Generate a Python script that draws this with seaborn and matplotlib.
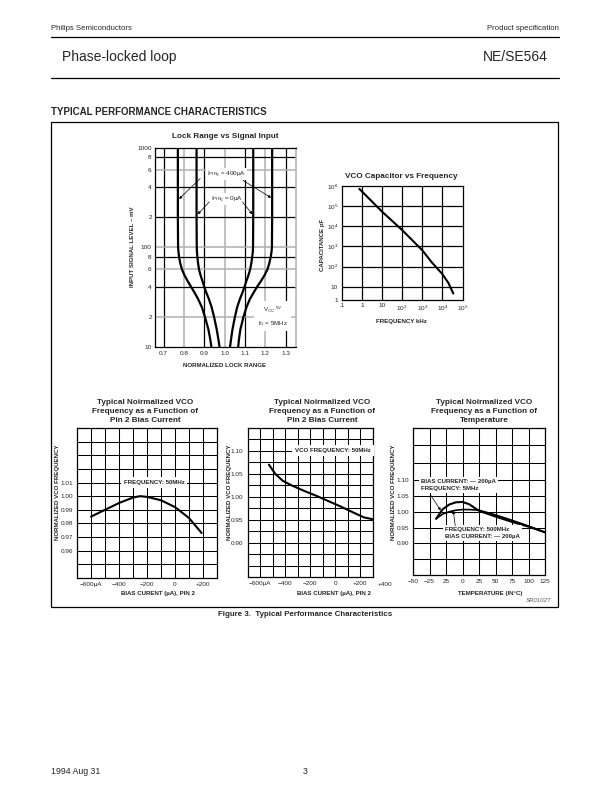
import numpy as np
import pandas as pd
import matplotlib
matplotlib.use("Agg")
import matplotlib.pyplot as plt
import seaborn as sns
from matplotlib import font_manager
from matplotlib.patches import Rectangle
from matplotlib.lines import Line2D

# ---------------- data ----------------
lock_mv = [1000, 500, 200, 100, 90, 80, 70, 60, 52, 45, 40, 35, 30, 25, 20, 15, 12, 10]
lock_400_left = [0.770, 0.770, 0.770, 0.771, 0.773, 0.776, 0.781, 0.790, 0.803, 0.820, 0.835, 0.852, 0.870, 0.888, 0.903, 0.920, 0.929, 0.935]
lock_0_left = [0.862, 0.862, 0.862, 0.863, 0.864, 0.866, 0.869, 0.874, 0.882, 0.892, 0.900, 0.910, 0.923, 0.936, 0.948, 0.961, 0.969, 0.975]
lock_0_right = [1.141, 1.141, 1.141, 1.140, 1.139, 1.136, 1.132, 1.126, 1.117, 1.106, 1.098, 1.088, 1.075, 1.062, 1.051, 1.039, 1.032, 1.027]
lock_400_right = [1.234, 1.234, 1.234, 1.233, 1.231, 1.227, 1.221, 1.211, 1.196, 1.177, 1.160, 1.143, 1.124, 1.108, 1.093, 1.078, 1.071, 1.067]
lock_xticks = [0.7, 0.8, 0.9, 1.0, 1.1, 1.2, 1.3]
lock_yticks = [10, 20, 40, 60, 80, 100, 200, 400, 600, 800, 1000]
lock_ylabels = ["10", "2", "4", "6", "8", "100", "2", "4", "6", "8", "1000"]

cap_freq_khz = [0.75, 1, 10, 100, 1000, 3000, 10000, 20000, 35000]
cap_pf = [7.4e5, 5.6e5, 5.5e4, 6.6e3, 6.5e2, 1.6e2, 4.2e1, 1.5e1, 4.5]
cap_xticks = [0.1, 1, 10, 100, 1e3, 1e4, 1e5]
cap_xlabels = [".1", "1", "10", r"$\mathregular{10^2}$", r"$\mathregular{10^3}$",
               r"$\mathregular{10^4}$", r"$\mathregular{10^5}$"]
cap_yticks = [10, 100, 1e3, 1e4, 1e5, 1e6]
cap_ylabels = ["10", r"$\mathregular{10^2}$", r"$\mathregular{10^3}$", r"$\mathregular{10^4}$",
               r"$\mathregular{10^5}$", r"$\mathregular{10^6}$"]

bias_ua = [-600, -500, -400, -300, -250, -200, -100, 0, 100, 190]
bias_freq = [0.985, 0.990, 0.995, 0.999, 1.000, 0.9995, 0.997, 0.992, 0.984, 0.973]
bias_xticks = [-600, -500, -400, -300, -200, -100, 0, 100, 200]
bias_xlabels = ["\u2212600\u00b5A", "", "\u2212400", "", "\u2212200", "", "0", "", "+200"]
bias_yticks = [0.95, 0.96, 0.97, 0.98, 0.99, 1.00, 1.01, 1.02, 1.03, 1.04]
bias_ylabels = ["", "0.96", "0.97", "0.98", "0.99", "1.00", "1.01", "", "", ""]

mid_ua = [-530, -480, -420, -350, -250, -150, -50, 50, 150, 230, 300]
mid_freq = [1.070, 1.050, 1.035, 1.025, 1.013, 1.002, 0.990, 0.978, 0.965, 0.955, 0.951]
mid_xticks = [-600, -500, -400, -300, -200, -100, 0, 100, 200]
mid_xlabels = ["\u2212600\u00b5A", "", "\u2212400", "", "\u2212200", "", "0", "", "+200"]
mid_yticks = [0.85, 0.875, 0.90, 0.925, 0.95, 0.975, 1.00, 1.025, 1.05, 1.075, 1.10, 1.125]
mid_ylabels = ["", "", "0.90", "", "0.95", "", "1.00", "", "1.05", "", "1.10", ""]

temp_c = [-40, -30, -20, -10, 0, 10, 25, 50, 75, 100, 125]
temp_5mhz = [0.978, 1.008, 1.023, 1.030, 1.031, 1.024, 1.003, 0.985, 0.968, 0.953, 0.935]
temp_500mhz = [0.978, 0.993, 1.000, 1.005, 1.007, 1.007, 1.005, 0.990, 0.973, 0.955, 0.935]
temp_xticks = [-75, -50, -25, 0, 25, 50, 75, 100, 125]
temp_xlabels = ["\u221250", "\u221225", "25", "0", "25", "50", "75", "100", "125"]
temp_yticks = [0.85, 0.90, 0.95, 1.00, 1.05, 1.10, 1.155, 1.21]
temp_ylabels = ["", "0.90", "0.95", "1.00", "1.05", "1.10", "", ""]

# ---------------- style ----------------
sns.set_style("white")
names = {f.name for f in font_manager.fontManager.ttflist}
NARROW = "Liberation Sans Narrow" in names
NF = "Liberation Sans Narrow" if NARROW else "Liberation Sans"
NS = 1.0 if NARROW else 0.84
plt.rcParams["font.family"] = ["Liberation Sans", "DejaVu Sans"]
plt.rcParams["mathtext.fontset"] = "custom"
plt.rcParams["mathtext.rm"] = "Liberation Sans"
plt.rcParams["mathtext.it"] = "Liberation Sans:italic"
plt.rcParams["mathtext.bf"] = "Liberation Sans:bold"

W, H = 612, 792
fig = plt.figure(figsize=(W / 100, H / 100), dpi=100)


def ax_at(x0, y0, x1, y1):
    return fig.add_axes([x0 / W, 1 - y1 / H, (x1 - x0) / W, (y1 - y0) / H])


def ftext(x, y, s, **kw):
    kw.setdefault("va", "center")
    fig.text(x / W, 1 - y / H, s, **kw)


def hline(x0, x1, y, lw=1.0):
    fig.add_artist(Line2D([x0 / W, x1 / W], [1 - y / H, 1 - y / H], color="black", lw=lw))


TICK = 4.6
LBL = 4.4
WHITE = dict(facecolor="white", edgecolor="none", pad=0.8)

# ---------------- page header / footer ----------------
ftext(51, 28.5, "Philips Semiconductors", fontsize=5.6, ha="left")
ftext(559, 28.5, "Product specification", fontsize=5.6, ha="right")
hline(51, 559, 36.5, lw=0.9)
ftext(61.5, 57, "Phase-locked loop", fontsize=10, ha="left")
ftext(548, 57, "NE/SE564", fontsize=10, ha="right")
hline(51, 559, 78, lw=0.9)
ftext(51, 112, "TYPICAL PERFORMANCE CHARACTERISTICS", fontsize=7.0, fontweight="bold", ha="left",
      family=NF if NARROW else "Liberation Sans")
fig.add_artist(Rectangle((51 / W, 1 - 607 / H), (558 - 51) / W, (607 - 121.5) / H,
                         fill=False, edgecolor="black", lw=0.9))
ftext(551, 600, "SR01027", fontsize=4.3, ha="right", style="italic", color="#555555")
ftext(305, 614, "Figure 3.  Typical Performance Characteristics", fontsize=6.8 * NS,
      fontweight="bold", ha="center", family=NF)
ftext(51, 771, "1994 Aug 31", fontsize=6.3, ha="left")
ftext(305, 771, "3", fontsize=6.3, ha="center")

# ---------------- Lock range chart ----------------
ax = ax_at(154.5, 147.7, 295.7, 346.7)
ax.set_yscale("log")
ax.set_xlim(0.655, 1.35)
ax.set_ylim(10, 1000)
grid_x_dark = [True, False, True, False, True, False, True]
for xv, dark in zip(lock_xticks, grid_x_dark):
    ax.axvline(xv, color="black" if dark else "#b0b0b0", lw=0.9 if dark else 1.1, zorder=1)
grid_y = [20, 40, 60, 80, 100, 200, 400, 600, 800]
grid_y_dark = [False, True, False, True, False, True, True, False, True]
for yv, dark in zip(grid_y, grid_y_dark):
    ax.axhline(yv, color="black" if dark else "#b0b0b0", lw=0.9 if dark else 1.1, zorder=1)
for xs in (lock_400_left, lock_0_left, lock_0_right, lock_400_right):
    sns.lineplot(x=xs, y=lock_mv, sort=False, estimator=None, color="black", lw=1.6, ax=ax, zorder=3)
ax.set_xticks(lock_xticks)
ax.set_xticklabels([f"{v:.1f}" for v in lock_xticks], fontsize=TICK)
ax.set_yticks(lock_yticks)
ax.set_yticklabels(lock_ylabels, fontsize=TICK)
ax.yaxis.set_minor_locator(matplotlib.ticker.FixedLocator([30, 50, 70, 90, 300, 500, 700, 900]))
ax.yaxis.set_minor_formatter(matplotlib.ticker.NullFormatter())
ax.tick_params(axis="y", which="both", direction="in", length=2.5, width=0.7, pad=2)
ax.tick_params(axis="x", length=0, pad=3)
for s in ax.spines.values():
    s.set_linewidth(0.9)
    s.set_color("black")
ax.spines["right"].set_color("#b0b0b0")
ax.spines["right"].set_linewidth(1.1)
ax.set_xlabel("")
ax.set_ylabel("")
ax.text(1.008, 545, r"$\mathregular{I_{PIN_2}}$ = 400$\mathregular{\mu}$A", fontsize=4.6, ha="center",
        va="center", bbox=WHITE, zorder=5)
ax.text(1.012, 305, r"$\mathregular{I_{PIN_2}}$ = 0$\mathregular{\mu}$A", fontsize=4.6, ha="center",
        va="center", bbox=WHITE, zorder=5)
arrow = dict(arrowstyle="-|>", color="black", lw=0.5, mutation_scale=4, shrinkA=0, shrinkB=0)
ax.annotate("", xy=(0.776, 305), xytext=(0.88, 490), arrowprops=arrow, zorder=6)
ax.annotate("", xy=(1.229, 314), xytext=(1.09, 470), arrowprops=arrow, zorder=6)
ax.annotate("", xy=(0.867, 214), xytext=(0.925, 285), arrowprops=arrow, zorder=6)
ax.annotate("", xy=(1.137, 214), xytext=(1.088, 285), arrowprops=arrow, zorder=6)
ax.text(1.236, 20.3, "V$\\mathregular{_{CC}}$ $\\mathregular{^{5V}}$\n\nf$\\mathregular{_O}$ = 5MHz",
        fontsize=4.4, ha="center", va="center", linespacing=0.9,
        bbox=dict(facecolor="white", edgecolor="none", pad=2.5), zorder=5)
ftext(225, 137, "Lock Range vs Signal Input", fontsize=7.0 * NS, fontweight="bold", ha="center", family=NF)
ftext(225, 365.5, "NORMALIZED LOCK RANGE", fontsize=LBL, fontweight="bold", ha="center")
ftext(133, 247, "INPUT SIGNAL LEVEL \u2013 mV", fontsize=LBL, fontweight="bold", ha="center", rotation=90)

# ---------------- VCO capacitor chart ----------------
ax = ax_at(341.7, 186.3, 462.5, 300)
ax.set_xscale("log")
ax.set_yscale("log")
ax.set_xlim(0.1, 1e5)
ax.set_ylim(10 ** 0.33, 1e6)
for xv in cap_xticks[1:-1]:
    ax.axvline(xv, color="black", lw=0.9, zorder=1)
for yv in cap_yticks[:-1]:
    ax.axhline(yv, color="black", lw=0.9, zorder=1)
sns.lineplot(x=cap_freq_khz, y=cap_pf, sort=False, estimator=None, color="black", lw=1.5, ax=ax, zorder=3)
ax.set_xticks(cap_xticks)
ax.set_xticklabels(cap_xlabels, fontsize=TICK)
ax.set_yticks([10 ** 0.33] + cap_yticks)
ax.set_yticklabels(["1"] + cap_ylabels, fontsize=TICK)
ax.minorticks_off()
ax.tick_params(length=0, pad=2.5)
for s in ax.spines.values():
    s.set_linewidth(0.9)
    s.set_color("black")
ax.set_xlabel("")
ax.set_ylabel("")
ftext(401.5, 177, "VCO Capacitor vs Frequency", fontsize=7.0 * NS, fontweight="bold", ha="center", family=NF)
ftext(401.5, 321, "FREQUENCY kHz", fontsize=LBL, fontweight="bold", ha="center")
ftext(322.5, 245, "CAPACITANCE pF", fontsize=LBL, fontweight="bold", ha="center", rotation=90)


def bottom_axes(x0, y0, x1, y1, xlim, ylim, xt, xl, yt, yl):
    a = ax_at(x0, y0, x1, y1)
    a.set_xlim(*xlim)
    a.set_ylim(*ylim)
    a.set_xticks(xt)
    a.set_xticklabels(xl, fontsize=TICK)
    a.set_yticks(yt)
    a.set_yticklabels(yl, fontsize=TICK)
    a.grid(True, color="black", lw=0.75)
    a.set_axisbelow(True)
    a.tick_params(length=0, pad=3)
    for s in a.spines.values():
        s.set_linewidth(0.9)
        s.set_color("black")
    return a


# ---------------- bias current chart (left) ----------------
ax = bottom_axes(77, 428, 217, 578, (-700, 300), (0.94, 1.05), bias_xticks, bias_xlabels,
                 bias_yticks, bias_ylabels)
sns.lineplot(x=bias_ua, y=bias_freq, sort=False, estimator=None, color="black", lw=1.5, ax=ax, zorder=3)
ax.set_xlabel("")
ax.set_ylabel("")
ax.text(-150, 1.010, "FREQUENCY: 50MHz", fontsize=4.4, fontweight="bold", ha="center", va="center",
        bbox=dict(facecolor="white", edgecolor="none", pad=2.2), zorder=4)
for i, line in enumerate(["Typical Noirmalized VCO", "Frequency as a Function of", "Pin 2 Bias Current"]):
    ftext(145, 402 + 9.3 * i, line, fontsize=7.0 * NS, fontweight="bold", ha="center", family=NF)
ftext(158, 593, "BIAS CURENT (\u00b5A), PIN 2", fontsize=LBL, fontweight="bold", ha="center")
ftext(57, 492, "NORMALIZED VCO FREQUENCY", fontsize=LBL, fontweight="bold", ha="center", rotation=90)

# ---------------- bias current chart (middle) ----------------
ax = bottom_axes(247.7, 428, 372.7, 577, (-700, 300), (0.825, 1.15), mid_xticks, mid_xlabels,
                 mid_yticks, mid_ylabels)
sns.lineplot(x=mid_ua, y=mid_freq, sort=False, estimator=None, color="black", lw=1.5, ax=ax, zorder=3)
ax.set_xlabel("")
ax.set_ylabel("")
ax.text(400, -0.035, "+400", transform=ax.get_xaxis_transform(), fontsize=TICK, ha="center", va="top",
        clip_on=False)
ax.text(-20, 1.100, "VCO FREQUENCY: 50MHz", fontsize=4.4, fontweight="bold", ha="center", va="center",
        bbox=dict(facecolor="white", edgecolor="none", pad=2.2), zorder=4)
for i, line in enumerate(["Typical Noirmalized VCO", "Frequency as a Function of", "Pin 2 Bias Current"]):
    ftext(322, 402 + 9.3 * i, line, fontsize=7.0 * NS, fontweight="bold", ha="center", family=NF)
ftext(334, 593, "BIAS CURENT (\u00b5A), PIN 2", fontsize=LBL, fontweight="bold", ha="center")
ftext(229, 492, "NORMALIZED VCO FREQUENCY", fontsize=LBL, fontweight="bold", ha="center", rotation=90)

# ---------------- temperature chart (right) ----------------
ax = bottom_axes(413, 428, 545, 575, (-75, 125), (0.80, 1.265), temp_xticks, temp_xlabels,
                 temp_yticks, temp_ylabels)
sns.lineplot(x=temp_c, y=temp_5mhz, sort=False, estimator=None, color="black", lw=1.5, ax=ax, zorder=3)
sns.lineplot(x=temp_c, y=temp_500mhz, sort=False, estimator=None, color="black", lw=1.2, ax=ax, zorder=3)
ax.set_xlabel("")
ax.set_ylabel("")
ax.text(-63, 1.084, "BIAS CURRENT: \u2014 200\u00b5A\nFREQUENCY: 5MHz", fontsize=4.4, fontweight="bold",
        ha="left", va="center", linespacing=1.5,
        bbox=dict(facecolor="white", edgecolor="none", pad=1.5), zorder=4)
ax.text(-26, 0.933, "FREQUENCY: 500MHz\nBIAS CURRENT: \u2014 200\u00b5A", fontsize=4.4, fontweight="bold",
        ha="left", va="center", linespacing=1.5,
        bbox=dict(facecolor="white", edgecolor="none", pad=1.5), zorder=4)
ax.annotate("", xy=(-33, 1.004), xytext=(-48, 1.052), arrowprops=arrow, zorder=6)
ax.annotate("", xy=(-14, 1.003), xytext=(-11, 0.956), arrowprops=arrow, zorder=6)
for i, line in enumerate(["Typical Noirmalized VCO", "Frequency as a Function of", "Temperature"]):
    ftext(484, 402 + 9.3 * i, line, fontsize=7.0 * NS, fontweight="bold", ha="center", family=NF)
ftext(490, 593, "TEMPERATURE (IN\u00b0C)", fontsize=LBL, fontweight="bold", ha="center")
ftext(394, 492, "NORMALIZED VCO FREQUENCY", fontsize=LBL, fontweight="bold", ha="center", rotation=90)

fig.savefig("out.png", dpi=100)
